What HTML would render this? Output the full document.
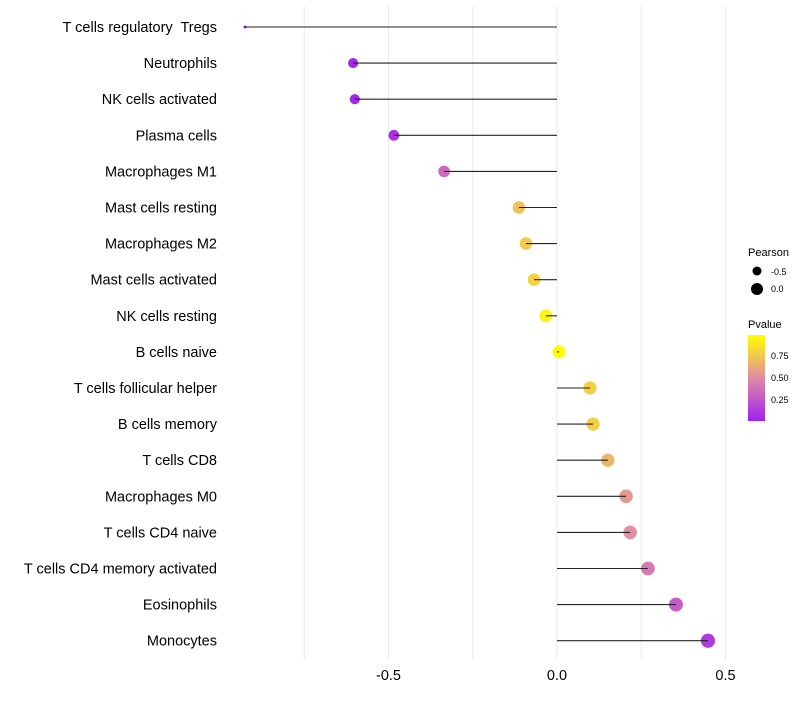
<!DOCTYPE html>
<html><head><meta charset="utf-8"><style>
body{margin:0;background:#fff;font-family:"Liberation Sans",sans-serif}
</style></head><body>
<svg id="chart" width="800" height="700" xmlns="http://www.w3.org/2000/svg">
<defs><linearGradient id="pg" x1="0" y1="1" x2="0" y2="0">
<stop offset="0" stop-color="#a020f0"/><stop offset="0.5" stop-color="#e08ca4"/><stop offset="1" stop-color="#ffff00"/></linearGradient></defs>
<g id="grid"></g>
<g id="dots"></g>
<g id="marks"></g>
<g id="ylabels"></g>
<g id="xlabels"></g>
<g>
<text x="748" y="256" font-size="11" fill="#000">Pearson</text>
<circle cx="757" cy="271" r="4.5" fill="#000"/>
<text x="771" y="275" font-size="9">-0.5</text>
<circle cx="757" cy="289" r="6" fill="#000"/>
<text x="771" y="292" font-size="9">0.0</text>
</g>
<g>
<text x="748" y="328" font-size="11">Pvalue</text>
<rect x="748" y="335" width="17" height="86" fill="url(#pg)"/>
<text x="771" y="359" font-size="9">0.75</text>
<text x="771" y="381" font-size="9">0.50</text>
<text x="771" y="403" font-size="9">0.25</text>
</g>
</svg>
<script>
const categories=["T cells regulatory\u00a0 Tregs","Neutrophils","NK cells activated","Plasma cells","Macrophages M1","Mast cells resting","Macrophages M2","Mast cells activated","NK cells resting","B cells naive","T cells follicular helper","B cells memory","T cells CD8","Macrophages M0","T cells CD4 naive","T cells CD4 memory activated","Eosinophils","Monocytes"];
const pearson=[-0.926,-0.605,-0.6,-0.484,-0.335,-0.113,-0.092,-0.068,-0.033,0.006,0.098,0.107,0.151,0.205,0.217,0.27,0.353,0.448];
const pvalue=[0.02,0.06,0.06,0.1,0.35,0.72,0.76,0.8,0.93,0.99,0.78,0.78,0.68,0.56,0.52,0.42,0.3,0.15];
const xTicks=[-0.5,0,0.5];
const xTickLabels=["-0.5","0.0","0.5"];
const gridVals=[-0.75,-0.5,-0.25,0,0.25,0.5];
const NS="http://www.w3.org/2000/svg";
const X=v=>557+v*337;
const Y=i=>27+i*36.1;
function el(t,a,p){const e=document.createElementNS(NS,t);for(const k in a)e.setAttribute(k,a[k]);document.getElementById(p).appendChild(e);return e;}
function lerp(a,b,t){return a.map((v,i)=>Math.round(v+(b[i]-v)*t));}
function col(p){const t=Math.max(0,Math.min(1,(p-0.03)/0.95));const c=t<0.5?lerp([160,32,240],[224,140,164],t*2):lerp([224,140,164],[255,255,0],(t-0.5)*2);return `rgb(${c})`;}
const pmin=Math.min(...pearson),pmax=Math.max(...pearson);
function rad(v){const t=(v-pmin)/(pmax-pmin);return Math.sqrt(2.25+48*Math.sqrt(t));}
gridVals.forEach(g=>{const l=el('line',{x1:X(g),x2:X(g),y1:6,y2:660,stroke:'#ebebeb','stroke-width':1},'grid');

});
categories.forEach((c,i)=>{
const t=el('text',{x:217,y:Y(i)+5,'text-anchor':'end','font-size':14.5,fill:'#000'},'ylabels');t.textContent=c;


const d=el('circle',{cx:X(pearson[i]),cy:Y(i),r:rad(pearson[i]),fill:col(pvalue[i])},'dots');


const l=el('line',{x1:X(0),x2:X(pearson[i]),y1:Y(i),y2:Y(i),stroke:'#222','stroke-width':1.1},'marks');


});
xTicks.forEach((v,i)=>{const t=el('text',{x:X(v),y:680,'text-anchor':'middle','font-size':14.5,fill:'#000'},'xlabels');t.textContent=xTickLabels[i];

});
</script>
</body></html>
